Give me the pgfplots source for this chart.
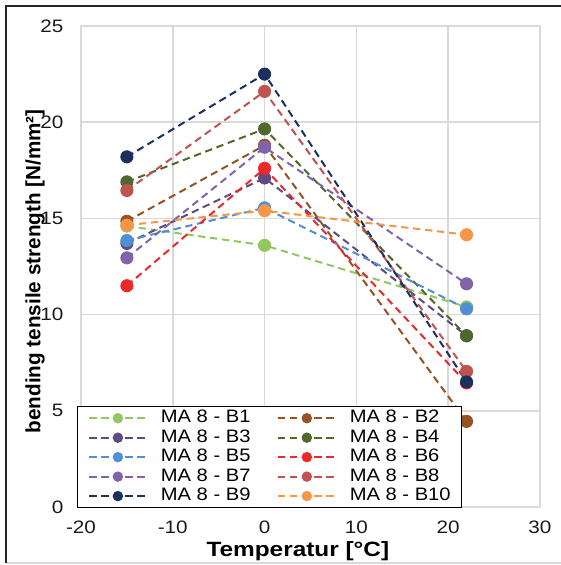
\documentclass[border=0pt]{standalone}
\usepackage{fontspec}
\setmainfont{Liberation Sans}
\usepackage{graphicx}
\usepackage{pgfplots}
\pgfplotsset{compat=1.18}
\definecolor{cB1}{RGB}{146,198,96}
\definecolor{cB2}{RGB}{150,82,32}
\definecolor{cB3}{RGB}{96,74,130}
\definecolor{cB4}{RGB}{80,104,44}
\definecolor{cB5}{RGB}{82,142,212}
\definecolor{cB6}{RGB}{236,40,40}
\definecolor{cB7}{RGB}{128,100,170}
\definecolor{cB8}{RGB}{192,82,80}
\definecolor{cB9}{RGB}{28,48,96}
\definecolor{cB10}{RGB}{247,150,70}
\definecolor{gridgray}{RGB}{217,217,217}
\newcommand{\hs}[2][1.12]{\scalebox{#1}[1]{#2}}
\pgfplotsset{
  ser/.style={color=#1, line width=1.5pt, dash pattern=on 5.5pt off 3.5pt,
    mark=*, mark size=4.6pt, mark options={solid, fill=#1, draw=#1, line width=0.6pt}},
}
\begin{document}
\begin{tikzpicture}
\useasboundingbox (0pt,0pt) rectangle (420.75pt,423.75pt);
\draw[gridgray, line width=1.2pt] (4.5pt,1.5pt) -- (420.75pt,1.5pt);
\draw[black!85, line width=2pt] (4.5pt,1.5pt) -- (4.5pt,419.25pt) -- (420.75pt,419.25pt);
\begin{axis}[
  at={(60.75pt,43.5pt)}, anchor=south west,
  scale only axis, width=344.25pt, height=360.75pt,
  xmin=-20, xmax=30, ymin=0, ymax=25,
  xtick={-20,-10,0,10,20,30}, ytick={0,5,10,15,20,25},
  grid=major, major grid style={color=gridgray, line width=1.1pt},
  axis line style={gridgray, line width=1.1pt},
  tick style={draw=none},
  /pgf/number format/assume math mode=true,
  ticklabel style={font=\fontsize{13.5}{16}\selectfont, text=black!90},
  xticklabel={\hs[1.15]{\pgfmathprintnumber{\tick}}},
  yticklabel={\hs[1.15]{\pgfmathprintnumber{\tick}}},
  xticklabel style={anchor=north, inner sep=0pt, yshift=-10.5pt},
  yticklabel style={anchor=east, inner sep=0pt, xshift=-13pt},
  label style={font=\bfseries\fontsize{15.5}{18}\selectfont},
  xlabel={\hs[1.18]{Temperatur [°C]}},
  ylabel={bending tensile strength [N/mm²]},
  xlabel style={at={(axis description cs:0.4725,0)}, anchor=north, inner sep=0pt, yshift=-26pt},
  ylabel style={at={(axis description cs:-0.1,0.49)}, anchor=center, inner sep=0pt},
  legend columns=2,
  legend cell align=left,
  legend style={at={(axis description cs:-0.0087,-0.002)}, anchor=south west,
    draw=black, line width=0.8pt, fill=white,
    font=\fontsize{13.5}{16}\selectfont,
    inner xsep=8pt, inner ysep=2pt, row sep=1.6pt,
    nodes={inner xsep=0pt, inner ysep=0pt, text height=9.8pt, text depth=3.2pt},
    /tikz/every odd column/.append style={column sep=10pt},
    /tikz/every even column/.append style={column sep=20pt}},
  legend image code/.code={\draw[mark repeat=2, mark phase=2, mark size=3.6pt] plot coordinates {(0pt,0pt) (21.5pt,0pt) (43pt,0pt)};},
]
\addplot[ser=cB1] coordinates {(-15,14.6) (0,13.6) (22,10.4)};
\addlegendentry{\hs{MA 8 - B1}}
\addplot[ser=cB2] coordinates {(-15,14.85) (0,18.8) (22,4.45)};
\addlegendentry{\hs{MA 8 - B2}}
\addplot[ser=cB3] coordinates {(-15,13.7) (0,17.1) (22,8.9)};
\addlegendentry{\hs{MA 8 - B3}}
\addplot[ser=cB4] coordinates {(-15,16.9) (0,19.65) (22,8.9)};
\addlegendentry{\hs{MA 8 - B4}}
\addplot[ser=cB5] coordinates {(-15,13.85) (0,15.55) (22,10.3)};
\addlegendentry{\hs{MA 8 - B5}}
\addplot[ser=cB6] coordinates {(-15,11.5) (0,17.6) (22,6.45)};
\addlegendentry{\hs{MA 8 - B6}}
\addplot[ser=cB7] coordinates {(-15,12.95) (0,18.7) (22,11.6)};
\addlegendentry{\hs{MA 8 - B7}}
\addplot[ser=cB8] coordinates {(-15,16.45) (0,21.6) (22,7.05)};
\addlegendentry{\hs{MA 8 - B8}}
\addplot[ser=cB9] coordinates {(-15,18.2) (0,22.5) (22,6.5)};
\addlegendentry{\hs{MA 8 - B9}}
\addplot[ser=cB10] coordinates {(-15,14.65) (0,15.4) (22,14.15)};
\addlegendentry{\hs{MA 8 - B10}}
\end{axis}
\end{tikzpicture}
\end{document}
